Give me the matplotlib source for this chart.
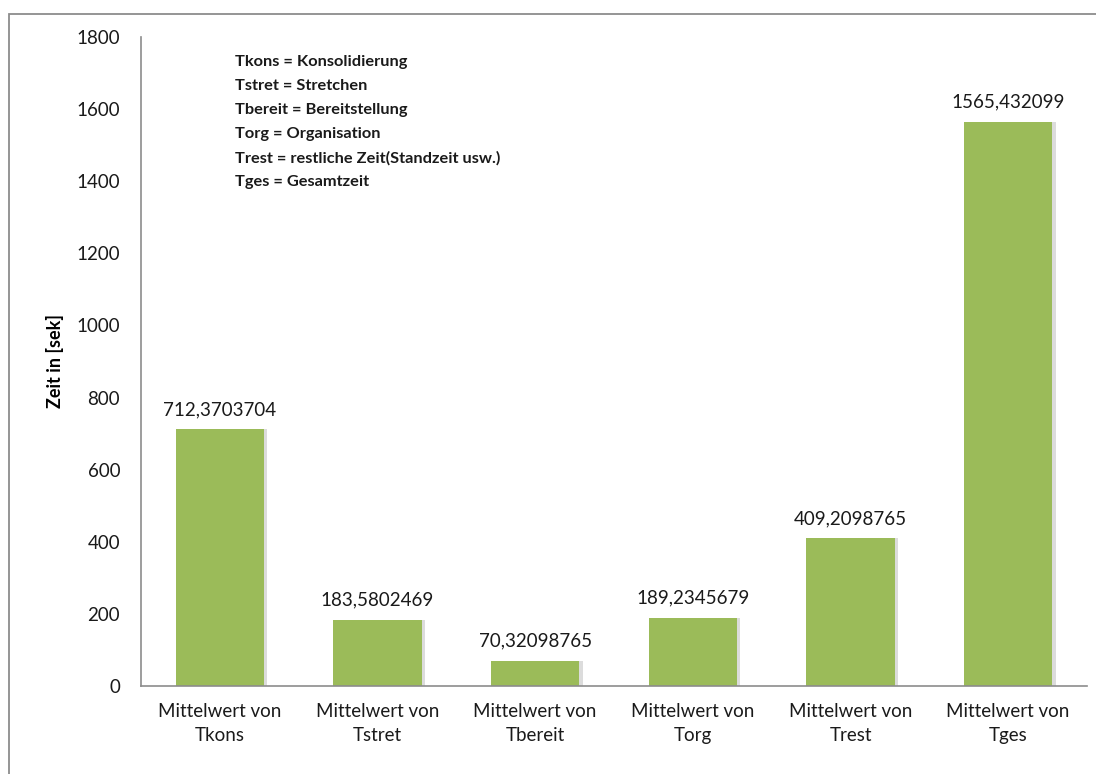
import matplotlib
matplotlib.use("Agg")
import matplotlib.pyplot as plt
from matplotlib.patches import Rectangle

categories = ["Mittelwert von\nTkons", "Mittelwert von\nTstret", "Mittelwert von\nTbereit",
              "Mittelwert von\nTorg", "Mittelwert von\nTrest", "Mittelwert von\nTges"]
values = [712.3703704, 183.5802469, 70.32098765, 189.2345679, 409.2098765, 1565.432099]
value_labels = ["712,3703704", "183,5802469", "70,32098765", "189,2345679", "409,2098765", "1565,432099"]
legend_lines = ["Tkons = Konsolidierung", "Tstret = Stretchen", "Tbereit = Bereitstellung",
                "Torg = Organisation", "Trest = restliche Zeit(Standzeit usw.)", "Tges = Gesamtzeit"]
yticks = [0, 200, 400, 600, 800, 1000, 1200, 1400, 1600, 1800]

plt.rcParams['font.family'] = ['Lato', 'DejaVu Sans']

W, H = 1096, 774
fig = plt.figure(figsize=(W / 100, H / 100), dpi=100)
# chart area border (only top and left edges fall inside the canvas)
fig.patches.append(Rectangle((9 / W, -0.05), 1.1, 1 - 14 / H + 0.05,
                             transform=fig.transFigure, fill=False,
                             edgecolor="#8c8c8c", linewidth=1.3))

ax = fig.add_axes([141 / W, 1 - 686 / H, (1087 - 141) / W, (686 - 37) / H])
x = list(range(len(values)))
bar_w = 0.56
# soft shadow on the right side of each bar
ax.bar([i + 0.022 for i in x], values, width=bar_w, color="#dcdcdc", zorder=1)
ax.bar(x, values, width=bar_w, color="#9BBB59", zorder=2)

for i, (v, lab) in enumerate(zip(values, value_labels)):
    ax.annotate(lab, (i, v), xytext=(0, 8), textcoords="offset points",
                ha="center", va="bottom", fontsize=13.5, color="#1a1a1a")

ax.set_xlim(-0.5, len(values) - 0.5)
ax.set_ylim(0, 1800)
ax.set_yticks(yticks)
ax.set_xticks(x)
ax.set_xticklabels(categories, fontsize=13.5, color="#1a1a1a", linespacing=1.5)
ax.tick_params(axis="y", length=0, pad=15, labelsize=13.5, labelcolor="#1a1a1a")
ax.tick_params(axis="x", length=0, pad=12)
for s in ["top", "right"]:
    ax.spines[s].set_visible(False)
ax.spines["left"].set_color("#8c8c8c")
ax.spines["bottom"].set_color("#8c8c8c")
ax.spines["left"].set_linewidth(1.2)
ax.spines["bottom"].set_linewidth(1.2)

ax.set_ylabel("Zeit in [sek]", fontsize=13, fontweight="bold", labelpad=9)

# abbreviation key, one line every 24 px
for k, line in enumerate(legend_lines):
    fig.text(235 / W, 1 - (62 + 24 * k) / H, line,
             ha="left", va="center", fontsize=11.8, fontweight="bold",
             color="#1a1a1a")

fig.savefig("out.png", dpi=100)
